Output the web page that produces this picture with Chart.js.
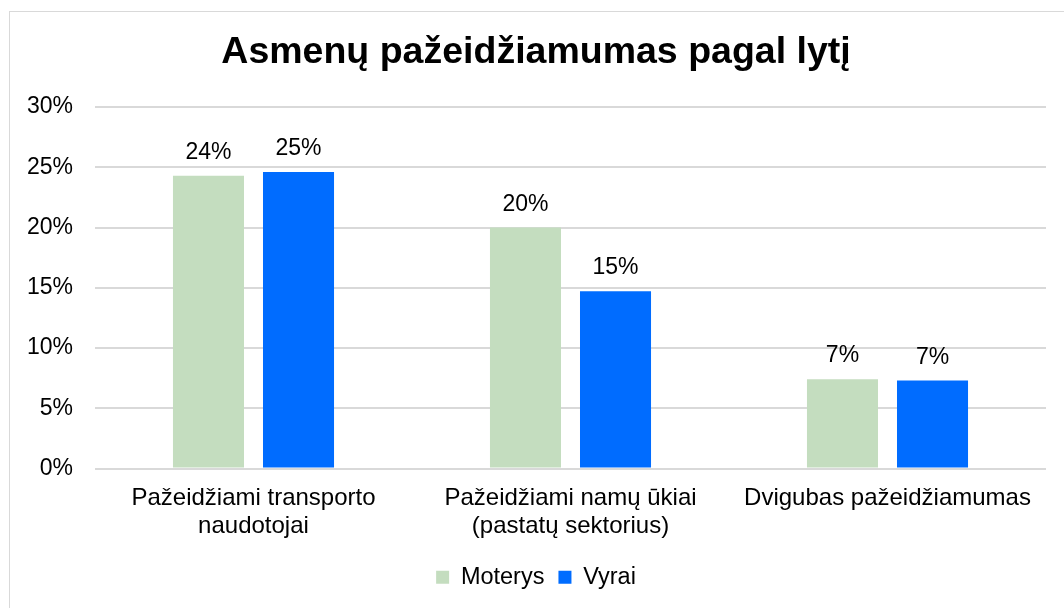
<!DOCTYPE html>
<html>
<head>
<meta charset="utf-8">
<script src="https://cdn.jsdelivr.net/npm/chart.js@4"></script>
<style>
  html, body { margin: 0; padding: 0; background: #fff; }
  #wrap { width: 1064px; height: 608px; position: relative; }
</style>
</head>
<body>
<div id="wrap"><canvas id="chart" width="1064" height="608"></canvas></div>
<script>
// chart data
const categories = [
  ['Pažeidžiami transporto', 'naudotojai'],
  ['Pažeidžiami namų ūkiai', '(pastatų sektorius)'],
  ['Dvigubas pažeidžiamumas']
];
const moterys = [24.3, 20.0, 7.4];
const vyrai = [24.6, 14.7, 7.3];
const yTicks = [0, 5, 10, 15, 20, 25, 30];
// end of chart data

const fontFamily = '"Liberation Sans", Arial, sans-serif';

// draws the value above each bar
const barLabels = {
  id: 'barLabels',
  afterDatasetsDraw(chart) {
    const ctx = chart.ctx;
    ctx.save();
    ctx.font = '23px ' + fontFamily;
    ctx.fillStyle = '#000';
    ctx.textAlign = 'center';
    ctx.textBaseline = 'alphabetic';
    chart.data.datasets.forEach((ds, i) => {
      chart.getDatasetMeta(i).data.forEach((bar, j) => {
        ctx.fillText(Math.round(ds.data[j]) + '%', bar.x, bar.y - 17);
      });
    });
    ctx.restore();
  }
};

// thin frame round the chart
const chartFrame = {
  id: 'chartFrame',
  beforeDraw(chart) {
    const ctx = chart.ctx;
    ctx.save();
    ctx.strokeStyle = '#d9d9d9';
    ctx.lineWidth = 1;
    ctx.strokeRect(9.5, 11.5, chart.width, chart.height);
    ctx.restore();
  }
};

new Chart(document.getElementById('chart'), {
  type: 'bar',
  data: {
    labels: categories,
    datasets: [{
      label: 'Moterys',
      data: moterys,
      backgroundColor: '#c4ddbf'
    }, {
      label: 'Vyrai',
      data: vyrai,
      backgroundColor: '#006cff'
    }]
  },
  options: {
    responsive: false,
    animation: false,
    categoryPercentage: 0.568,
    barPercentage: 0.789,
    layout: { padding: { left: 26, right: 18, top: 0, bottom: 9 } },
    plugins: {
      title: {
        display: true,
        text: 'Asmenų pažeidžiamumas pagal lytį',
        color: '#000',
        font: { family: fontFamily, size: 37.5, weight: 'bold', lineHeight: 1.2 },
        padding: { top: 30, bottom: 32 }
      },
      legend: {
        position: 'bottom',
        labels: {
          color: '#000',
          font: { family: fontFamily, size: 23.5 },
          boxWidth: 13,
          boxHeight: 13,
          padding: 14
        }
      },
      tooltip: { enabled: false }
    },
    scales: {
      x: {
        grid: { display: false, drawTicks: false },
        border: { display: false },
        afterFit: (scale) => { scale.height = 83; },
        ticks: {
          color: '#000',
          maxRotation: 0,
          autoSkip: false,
          padding: 15,
          font: { family: fontFamily, size: 24, lineHeight: 1.2 }
        }
      },
      y: {
        min: 0,
        max: 30,
        afterBuildTicks: (scale) => {
          scale.ticks = yTicks.map(v => ({ value: v }));
        },
        afterFit: (scale) => { scale.width = 69; },
        grid: { color: '#d9d9d9', lineWidth: 2, drawTicks: false },
        border: { display: false },
        ticks: {
          color: '#000',
          padding: 22,
          font: { family: fontFamily, size: 23 },
          callback: (v) => v + '%'
        }
      }
    }
  },
  plugins: [barLabels, chartFrame]
});
</script>
</body>
</html>
